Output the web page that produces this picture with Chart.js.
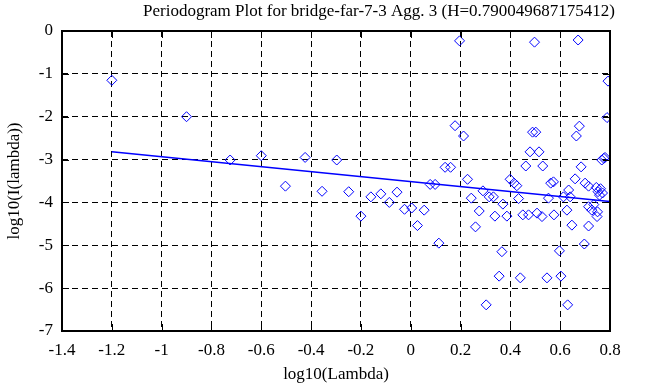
<!DOCTYPE html>
<html>
<head>
<meta charset="utf-8">
<script src="https://cdn.jsdelivr.net/npm/chart.js@4/dist/chart.umd.min.js"></script>
<style>
	html, body { margin: 0; padding: 0; background: #fff; }
	#wrap { width: 663px; height: 387px; }
</style>
</head>
<body>
<div id="wrap"><canvas id="chartPgram"></canvas></div>
<script>
// log10(Lambda) of each periodogram point
const xVals = [
	-1.2, -0.9, -0.725, -0.6, -0.503, -0.424, -0.356, -0.297, -0.249, -0.2,
	-0.16, -0.12, -0.086, -0.055, -0.025, 0.004, 0.027, 0.054, 0.078, 0.098,
	0.113, 0.138, 0.16, 0.178, 0.196, 0.212, 0.228, 0.243, 0.26, 0.275,
	0.29, 0.303, 0.315, 0.332, 0.338, 0.355, 0.366, 0.37, 0.386, 0.399,
	0.415, 0.426, 0.433, 0.44, 0.45, 0.462, 0.473, 0.479, 0.489, 0.497,
	0.502, 0.507, 0.515, 0.527, 0.53, 0.547, 0.553, 0.562, 0.573, 0.575,
	0.597, 0.603, 0.613, 0.627, 0.63, 0.634, 0.64, 0.647, 0.66, 0.665,
	0.672, 0.677, 0.684, 0.697, 0.7, 0.714, 0.714, 0.714, 0.727, 0.735,
	0.745, 0.748, 0.75, 0.752, 0.758, 0.762, 0.767, 0.77, 0.775, 0.78,
	0.788, 0.792
];
// log10(I(lambda)) of each point
const yVals = [
	-1.15, -2.0, -3.01, -2.91, -3.62, -2.95, -3.74, -3.01, -3.75, -4.32,
	-3.87, -3.8, -4.0, -3.76, -4.16, -4.13, -4.54, -4.18, -3.58, -3.58,
	-4.95, -3.18, -3.18, -2.21, -0.23, -2.45, -3.46, -3.9, -4.57, -4.2,
	-3.73, -6.39, -3.87, -3.87, -4.32, -5.72, -5.15, -4.04, -4.32, -3.46,
	-3.55, -3.61, -3.91, -5.76, -4.29, -3.15, -4.29, -2.82, -2.36, -0.26,
	-2.36, -4.25, -2.82, -4.33, -3.15, -5.76, -3.9, -3.55, -3.52, -4.29,
	-5.13, -5.72, -3.87, -4.18, -6.39, -3.71, -3.87, -4.53, -3.45, -2.45,
	-0.21, -2.22, -3.17, -4.97, -3.55, -3.62, -4.1, -4.55, -4.18, -4.05,
	-3.65, -4.33, -4.22, -3.75, -3.83, -3.68, -3.01, -3.78, -2.97, -2.95,
	-2.02, -1.17
];

// least squares fit line end points
const fitX = [-1.2, 0.8];
const fitY = [-2.82, -3.98];

const xTicks = [-1.4, -1.2, -1, -0.8, -0.6, -0.4, -0.2, 0, 0.2, 0.4, 0.6, 0.8];
const yTicks = [0, -1, -2, -3, -4, -5, -6, -7];

const titleText = "Periodogram Plot for bridge-far-7-3 Agg. 3 (H=0.790049687175412)";
const xTitle = "log10(Lambda)";
const yTitle = "log10(I(lambda))";

const FONT = "'Liberation Serif', 'Times New Roman', serif";

// gnuplot style: frame + inward ticks on all four sides, title on top
const framePlugin = {
	id: "frame",
	afterDatasetsDraw(chart) {
		const { ctx, chartArea: a, scales } = chart;
		const len = 7;
		ctx.save();
		ctx.strokeStyle = "#000";
		ctx.setLineDash([]);
		ctx.lineWidth = 1;
		ctx.beginPath();
		xTicks.forEach((v) => {
			const px = Math.round(scales.x.getPixelForValue(v)) + 0.5;
			ctx.moveTo(px, a.bottom);
			ctx.lineTo(px, a.bottom - len);
			ctx.moveTo(px, a.top);
			ctx.lineTo(px, a.top + len);
		});
		yTicks.forEach((v) => {
			const py = Math.round(scales.y.getPixelForValue(v)) + 0.5;
			ctx.moveTo(a.left, py);
			ctx.lineTo(a.left + len, py);
			ctx.moveTo(a.right, py);
			ctx.lineTo(a.right - len, py);
		});
		ctx.stroke();
		ctx.lineWidth = 2;
		ctx.strokeRect(a.left, a.top, a.right - a.left, a.bottom - a.top);

		ctx.fillStyle = "#000";
		ctx.font = "17px " + FONT;
		ctx.textAlign = "center";
		ctx.textBaseline = "middle";
		ctx.fillText(titleText, 379, 12);
		ctx.restore();
	},
};

new Chart(document.getElementById("chartPgram"), {
	type: "scatter",
	data: {
		datasets: [
			{
				label: "periodogram",
				data: xVals.map((x, i) => ({ x: x, y: yVals[i] })),
				pointStyle: "rectRot",
				pointRadius: 5,
				pointBorderWidth: 1,
				pointBorderColor: "#0000ff",
				pointBackgroundColor: "rgba(0,0,0,0)",
				showLine: false,
			},
			{
				label: "fit",
				data: fitX.map((x, i) => ({ x: x, y: fitY[i] })),
				showLine: true,
				borderColor: "#0000ff",
				borderWidth: 1.5,
				pointRadius: 0,
			},
		],
	},
	options: {
		responsive: true,
		maintainAspectRatio: false,
		animation: false,
		layout: { padding: { left: 0, top: 31, right: 53, bottom: 0 } },
		plugins: {
			legend: { display: false },
			tooltip: { enabled: false },
		},
		scales: {
			x: {
				type: "linear",
				min: -1.4,
				max: 0.8,
				afterBuildTicks: (s) => { s.ticks = xTicks.map((v) => ({ value: v })); },
				afterFit: (s) => { s.height = 56; },
				ticks: {
					color: "#000",
					font: { family: FONT, size: 17 },
					padding: 9,
					maxRotation: 0,
					autoSkip: false,
					callback: (v) => String(v),
				},
				grid: { color: "#000", lineWidth: 1, drawTicks: false, borderDash: [6, 4] },
				border: { display: false, dash: [6, 4] },
				title: {
					display: true,
					text: xTitle,
					color: "#000",
					font: { family: FONT, size: 17 },
					padding: { top: 0, bottom: 2 },
				},
			},
			y: {
				type: "linear",
				min: -7,
				max: 0,
				afterBuildTicks: (s) => { s.ticks = yTicks.map((v) => ({ value: v })); },
				afterFit: (s) => { s.width = 62; },
				ticks: {
					color: "#000",
					font: { family: FONT, size: 17 },
					padding: 9,
					autoSkip: false,
					callback: (v) => String(v),
				},
				grid: { color: "#000", lineWidth: 1, drawTicks: false, borderDash: [6, 4] },
				border: { display: false, dash: [6, 4] },
				title: {
					display: true,
					text: yTitle,
					color: "#000",
					font: { family: FONT, size: 17 },
					padding: { top: 4, bottom: 0 },
				},
			},
		},
	},
	plugins: [framePlugin],
});
</script>
</body>
</html>
